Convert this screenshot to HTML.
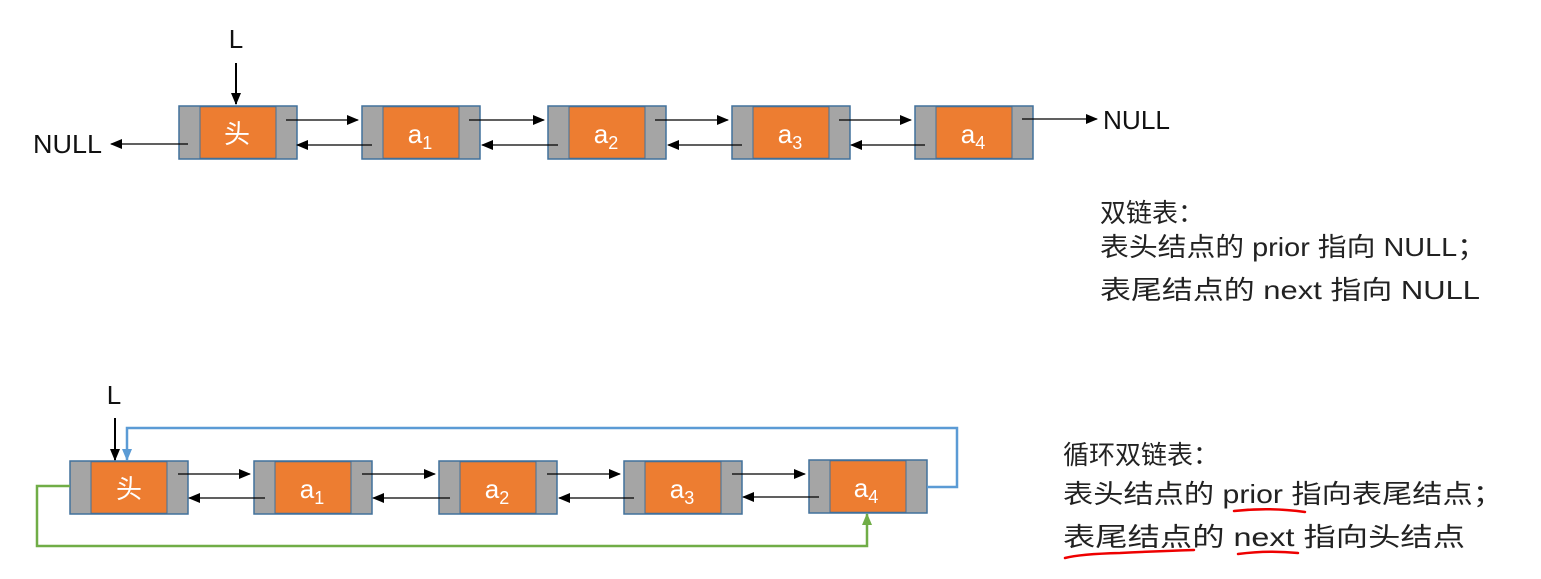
<!DOCTYPE html>
<html><head><meta charset="utf-8"><style>body{margin:0;background:#fff}svg{display:block}</style></head><body>
<svg width="1541" height="579" viewBox="0 0 1541 579" xmlns="http://www.w3.org/2000/svg" font-family="Liberation Sans, Noto Sans CJK SC, sans-serif">
<defs>
<marker id="k" markerWidth="12" markerHeight="10" refX="11" refY="5" orient="auto" markerUnits="userSpaceOnUse"><path d="M0,0L12,5L0,10z" fill="#000"/></marker>
<marker id="b" markerWidth="12" markerHeight="10" refX="11" refY="5" orient="auto" markerUnits="userSpaceOnUse"><path d="M0,0L12,5L0,10z" fill="#5b9bd5"/></marker>
<marker id="g" markerWidth="12" markerHeight="10" refX="11" refY="5" orient="auto" markerUnits="userSpaceOnUse"><path d="M0,0L12,5L0,10z" fill="#70ad47"/></marker>
<g id="n"><rect x="0" y="0" width="118" height="53" fill="#a5a5a5" stroke="#41719c" stroke-width="1.5"/><rect x="21" y="0.75" width="76" height="51.5" fill="#ed7d31" stroke="#41719c" stroke-width="1"/></g>
</defs>
<use href="#n" x="179" y="106"/><use href="#n" x="362" y="106"/><use href="#n" x="548" y="106"/><use href="#n" x="732" y="106"/><use href="#n" x="915" y="106"/>
<g stroke="#000" stroke-width="1.3" marker-end="url(#k)">
<line x1="286" y1="120" x2="358" y2="120"/><line x1="372" y1="145" x2="297" y2="145"/>
<line x1="469" y1="120" x2="544" y2="120"/><line x1="558" y1="145" x2="482" y2="145"/>
<line x1="655" y1="120" x2="728" y2="120"/><line x1="742" y1="145" x2="668" y2="145"/>
<line x1="839" y1="120" x2="911" y2="120"/><line x1="925" y1="145" x2="851" y2="145"/>
<line x1="188" y1="144" x2="111" y2="144"/><line x1="1022" y1="119" x2="1097" y2="119"/>
<line x1="236" y1="63" x2="236" y2="104" stroke-width="2"/>
</g>
<g font-size="26" fill="#fff" text-anchor="middle">
<text x="237" y="143" font-family="Noto Sans CJK SC, sans-serif">头</text>
<text x="420" y="143">a<tspan font-size="18" dy="6">1</tspan></text>
<text x="606" y="143">a<tspan font-size="18" dy="6">2</tspan></text>
<text x="790" y="143">a<tspan font-size="18" dy="6">3</tspan></text>
<text x="973" y="143">a<tspan font-size="18" dy="6">4</tspan></text>
</g>
<g font-size="26" fill="#111">
<text x="236" y="48" text-anchor="middle">L</text>
<text x="33" y="153" textLength="69" lengthAdjust="spacingAndGlyphs">NULL</text>
<text x="1103" y="129" textLength="67" lengthAdjust="spacingAndGlyphs">NULL</text>
</g>
<use href="#n" x="70" y="461"/><use href="#n" x="254" y="461"/><use href="#n" x="439" y="461"/><use href="#n" x="624" y="461"/><use href="#n" x="809" y="460"/>
<g stroke="#000" stroke-width="1.3" marker-end="url(#k)">
<line x1="178" y1="474" x2="250" y2="474"/><line x1="265" y1="498" x2="189" y2="498"/>
<line x1="362" y1="474" x2="435" y2="474"/><line x1="450" y1="498" x2="373" y2="498"/>
<line x1="547" y1="474" x2="620" y2="474"/><line x1="634" y1="498" x2="559" y2="498"/>
<line x1="732" y1="474" x2="805" y2="474"/><line x1="819" y1="497" x2="743" y2="497"/>
<line x1="115" y1="418" x2="115" y2="460" stroke-width="2"/>
</g>
<polyline points="927,487 957,487 957,428 127,428 127,460" fill="none" stroke="#5b9bd5" stroke-width="2.5" marker-end="url(#b)"/>
<polyline points="70,486 37,486 37,546 867,546 867,514" fill="none" stroke="#70ad47" stroke-width="2.5" marker-end="url(#g)"/>
<g font-size="26" fill="#fff" text-anchor="middle">
<text x="129" y="498" font-family="Noto Sans CJK SC, sans-serif">头</text>
<text x="312" y="498">a<tspan font-size="18" dy="6">1</tspan></text>
<text x="497" y="498">a<tspan font-size="18" dy="6">2</tspan></text>
<text x="682" y="498">a<tspan font-size="18" dy="6">3</tspan></text>
<text x="866" y="497">a<tspan font-size="18" dy="6">4</tspan></text>
</g>
<text x="114" y="404" font-size="26" text-anchor="middle" fill="#111">L</text>
<g font-size="26" fill="#222">
<text x="1100" y="222">双链表：</text>
<text x="1100" y="256" textLength="386" lengthAdjust="spacingAndGlyphs">表头结点的 prior 指向 NULL；</text>
<text x="1100" y="299" textLength="380" lengthAdjust="spacingAndGlyphs">表尾结点的 next 指向 NULL</text>
<text x="1063" y="464">循环双链表：</text>
<text x="1063" y="503" textLength="440" lengthAdjust="spacingAndGlyphs">表头结点的 prior 指向表尾结点；</text>
<text x="1063" y="546" textLength="402" lengthAdjust="spacingAndGlyphs">表尾结点的 next 指向头结点</text>
</g>
<g fill="none" stroke="#e00" stroke-width="2.5" stroke-linecap="round">
<path d="M1234,511 Q1270,507 1305,512"/>
<path d="M1065,558 Q1080,554 1120,553 Q1160,551 1194,550"/>
<path d="M1238,554 Q1268,550 1298,553"/>
</g>
</svg>
</body></html>
